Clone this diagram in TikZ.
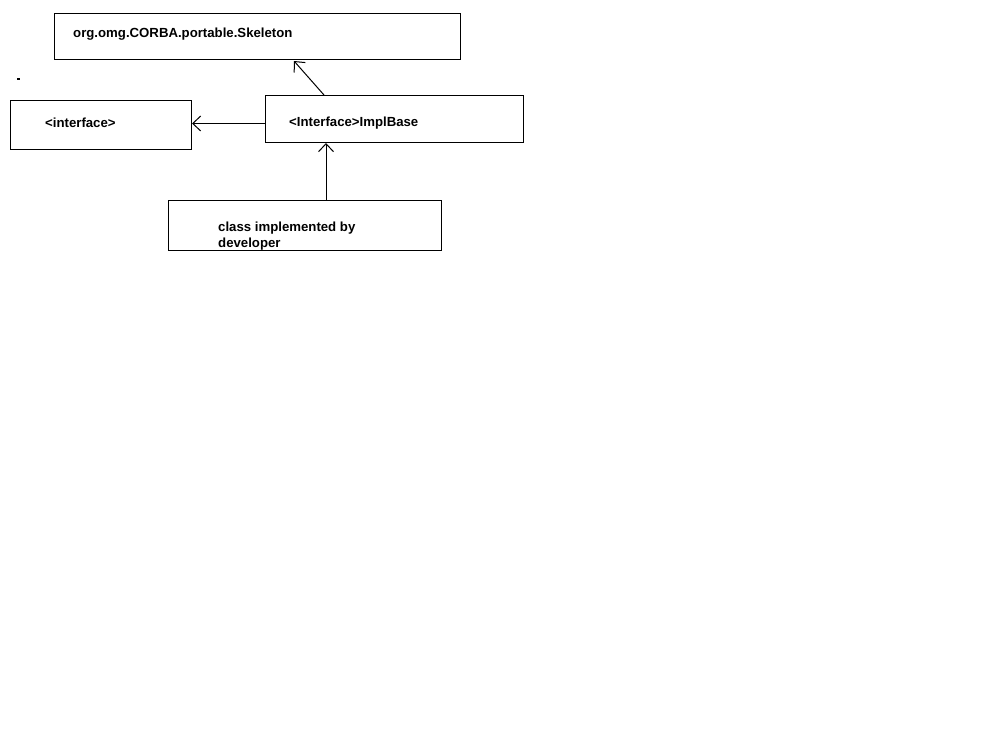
\documentclass[tikz,border=0pt]{standalone}
\usepackage{fontspec}
\setmainfont{Liberation Sans}
\usetikzlibrary{arrows.meta,calc}
\begin{document}
\begin{tikzpicture}[x=1pt,y=-1pt,
  box/.style={draw,line width=1pt,rectangle,inner sep=0pt,anchor=north west},
  lbl/.style={anchor=base west,inner sep=0pt,font=\bfseries\fontsize{13.2}{15.5}\selectfont,align=left},
  gen/.style={line width=1pt,-{Straight Barb[length=8pt,width=15pt,line width=1pt]}}]
  \useasboundingbox[fill=white] (0,0) rectangle (995,730);
  % class boxes
  \node[box,minimum width=406pt,minimum height=46pt] (skel) at (54,13) {};
  \node[box,minimum width=181pt,minimum height=49pt] (iface) at (10,100) {};
  \node[box,minimum width=258pt,minimum height=47pt] (impl) at (265,95) {};
  \node[box,minimum width=273pt,minimum height=50pt] (dev) at (168,200) {};
  % labels
  \node[lbl] (tskel) at (73,38) {org.omg.CORBA.portable.Skeleton};
  \node[lbl] (tiface) at (45,128) {<interface>};
  \node[lbl] (timpl) at (289,127) {<Interface>ImplBase};
  \node[lbl,anchor=north west] (tdev) at (218,222) {class implemented by\\developer};
  % stray mark
  \fill (17,78) rectangle (20,80);
  % inheritance connectors
  \draw[gen] ($(impl.north west)+(59,0)$) -- ($(skel.south west)+(240,1)$);
  \draw[gen] ($(impl.west)+(0,4.5)$) -- ($(iface.east |- impl.west)+(0,4.5)$);
  \draw[gen] ($(dev.north west)+(158,0)$) -- ($(impl.south west)+(61,0)$);
\end{tikzpicture}
\end{document}
